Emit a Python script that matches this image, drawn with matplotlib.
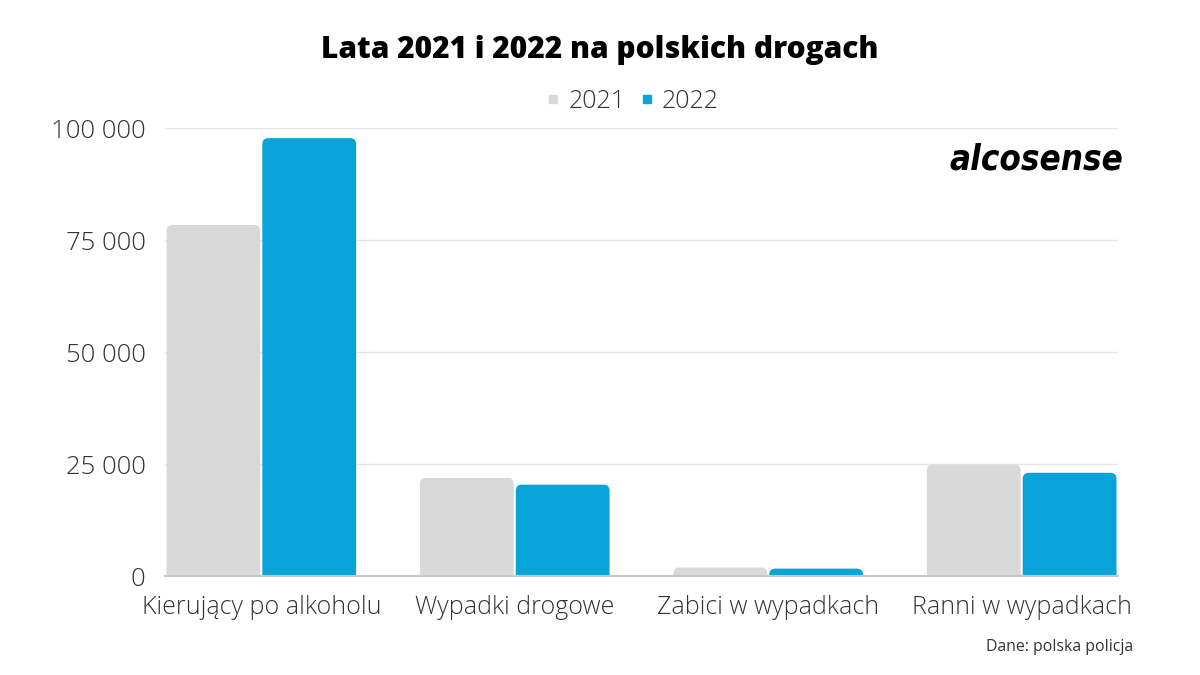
import matplotlib
matplotlib.use("Agg")
import matplotlib.pyplot as plt
from matplotlib.patches import FancyBboxPatch
from matplotlib.lines import Line2D
from matplotlib.ticker import FuncFormatter
import numpy as np

categories = ["Kierujący po alkoholu", "Wypadki drogowe", "Zabici w wypadkach", "Ranni w wypadkach"]
series_names = ["2021", "2022"]
values_2021 = [78400, 21900, 1900, 24900]
values_2022 = [97800, 20400, 1650, 23050]
yticks = [0, 25000, 50000, 75000, 100000]
colors = ["#d9d9d9", "#07a3d9"]

plt.rcParams['font.family'] = ['Open Sans', 'DejaVu Sans']
text_color = "#333333"

fig = plt.figure(figsize=(12, 6.75), dpi=100)
ax = fig.add_axes([165/1200, 1-576/675, (1118-165)/1200, (576-128.3)/675])

x = np.arange(len(categories))
w = 0.37
gap = 0.004
bars_a = ax.bar(x - w/2 - gap, values_2021, width=w, color=colors[0], label=series_names[0])
bars_b = ax.bar(x + w/2 + gap, values_2022, width=w, color=colors[1], label=series_names[1])
ax.set_xlim(-0.372 - 0.008, 3.372 + 0.008)
ax.set_ylim(0, 100000)

fig.canvas.draw()
# convert pixel radius to data units
r_px = 6
inv = ax.transData.inverted()
p0 = inv.transform((0, 0)); p1 = inv.transform((r_px, r_px))
rx = p1[0] - p0[0]; ry = p1[1] - p0[1]
for bars in (bars_a, bars_b):
    for b in bars:
        bx, by, bw, bh = b.get_x(), b.get_y(), b.get_width(), b.get_height()
        b.set_visible(False)
        patch = FancyBboxPatch((bx, by - ry), bw, bh + ry,
                               boxstyle=f"round,pad=0,rounding_size={rx}",
                               mutation_aspect=ry/rx,
                               facecolor=b.get_facecolor(), edgecolor="none",
                               zorder=2)
        ax.add_patch(patch)

ax.set_yticks(yticks)
ax.yaxis.set_major_formatter(FuncFormatter(lambda v, p: f"{int(v):,}".replace(",", " ")))
ax.set_xticks(x)
ax.set_xticklabels(categories)
ax.tick_params(axis='both', length=0, labelsize=18, labelcolor=text_color)
ax.tick_params(axis='y', labelsize=18.5, pad=14)
ax.tick_params(axis='x', pad=14)
for lab in ax.get_xticklabels() + ax.get_yticklabels():
    lab.set_fontweight('light')

ax.grid(axis='y', color="#e6e6e6", linewidth=1, zorder=0)
ax.set_axisbelow(True)
for s in ['top', 'right', 'left']:
    ax.spines[s].set_visible(False)
ax.spines['bottom'].set_color("#c8c8c8")
ax.spines['bottom'].set_linewidth(1.5)
ax.spines['bottom'].set_zorder(3)

fig.text(0.5, 1-50/675, "Lata 2021 i 2022 na polskich drogach", ha='center', va='center',
         fontsize=21.5, fontweight=800, color='black')

handles = [Line2D([], [], marker='s', linestyle='none', markersize=6, color=c) for c in colors]
leg = fig.legend(handles, series_names, loc='center', bbox_to_anchor=(631/1200, 1-101/675),
                 ncol=2, frameon=False, fontsize=18, handletextpad=0.2, columnspacing=0.45,
                 handlelength=0.8)
for t in leg.get_texts():
    t.set_fontweight('light'); t.set_color(text_color)

fig.text(1123/1200, 1-160/675, "alcosense", ha='right', va='center', fontsize=25,
         fontweight='bold', style='italic', fontstretch='condensed',
         family=['DejaVu Sans'], color='black')

fig.text(1133/1200, 1-647/675, "Dane: polska policja", ha='right', va='center',
         fontsize=11.4, color=text_color)

fig.savefig("out.png", dpi=100)
